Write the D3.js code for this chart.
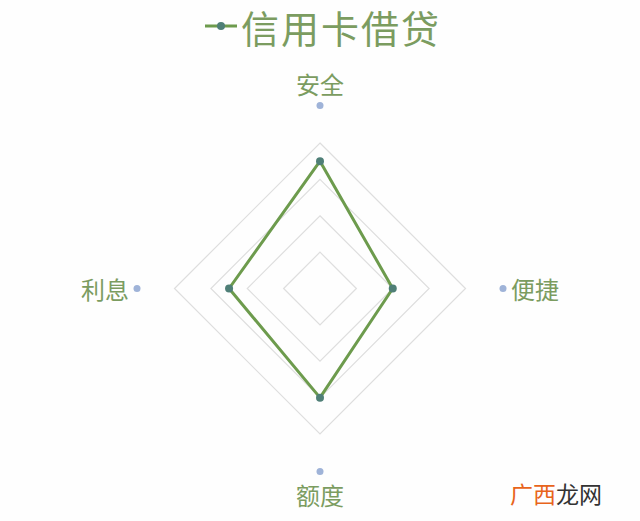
<!DOCTYPE html>
<html><head><meta charset="utf-8">
<script src="https://cdn.jsdelivr.net/npm/d3@7/dist/d3.min.js"></script>
<style>html,body{margin:0;padding:0;background:#fefefe;}</style>
</head><body>
<svg id="c" width="640" height="521"></svg>
<script>
const seriesName = "信用卡借贷";
const categories = ["安全", "便捷", "额度", "利息"];
const values = [3.5, 2, 3, 2.5];
const ringTicks = [1, 2, 3, 4];
const maxValue = 4;

const svg = d3.select("#c");
const cx = 320, cy = 288.5, R = 145.5;
const font = "'Noto Sans CJK SC', 'Noto Sans', sans-serif";
const green = "#6d9b4d", teal = "#4f7f77", textGreen = "#7b9c60";

const r = d3.scaleLinear().domain([0, maxValue]).range([0, R]);
const angle = d3.scalePoint().domain(categories).range([0, 2 * Math.PI * (categories.length - 1) / categories.length]);
const pt = (cat, v) => [cx + r(v) * Math.sin(angle(cat)), cy - r(v) * Math.cos(angle(cat))];

// grid rings
svg.append("g").selectAll("polygon").data(ringTicks).join("polygon")
  .attr("points", t => categories.map(c => pt(c, t).join(",")).join(" "))
  .attr("fill", "none").attr("stroke", "#dedede").attr("stroke-width", 1.2);

// series line
const line = d3.line().curve(d3.curveLinearClosed);
svg.append("path")
  .attr("d", line(categories.map((c, i) => pt(c, values[i]))))
  .attr("fill", "none").attr("stroke", green).attr("stroke-width", 3).attr("stroke-linejoin", "round");

svg.append("g").selectAll("circle").data(categories).join("circle")
  .attr("cx", (c, i) => pt(c, values[i])[0]).attr("cy", (c, i) => pt(c, values[i])[1])
  .attr("r", 4).attr("fill", teal);

// axis label dots and labels
const labelR = r.invert(183);
const lg = svg.append("g");
categories.forEach(c => {
  const [x, y] = pt(c, labelR);
  lg.append("circle").attr("cx", x).attr("cy", y).attr("r", 3.5).attr("fill", "#9fb3d8");
  const a = angle(c);
  let tx = x, ty = y, anchor = "middle";
  if (Math.abs(Math.sin(a)) < 0.01) {
    ty = Math.cos(a) > 0 ? y - 22 : y + 23;
  } else if (Math.sin(a) > 0) { tx = x + 8; anchor = "start"; }
  else { tx = x - 8; anchor = "end"; }
  lg.append("text").attr("x", tx).attr("y", ty).attr("text-anchor", anchor)
    .attr("dominant-baseline", "central")
    .attr("font-family", font).attr("font-size", 24).attr("fill", textGreen).text(c);
});

// title legend
const tg = svg.append("g");
tg.append("line").attr("x1", 205).attr("x2", 237).attr("y1", 26).attr("y2", 26)
  .attr("stroke", green).attr("stroke-width", 3);
tg.append("circle").attr("cx", 221).attr("cy", 26).attr("r", 4).attr("fill", teal);
tg.append("text").attr("x", 241).attr("y", 26).attr("dominant-baseline", "central")
  .attr("font-family", font).attr("font-size", 38).attr("letter-spacing", 2)
  .attr("fill", textGreen).text(seriesName);

// watermark
const wm = svg.append("text").attr("x", 510).attr("y", 493).attr("dominant-baseline", "central")
  .attr("font-family", font).attr("font-size", 23);
wm.append("tspan").attr("fill", "#e8641b").text("广西");
wm.append("tspan").attr("fill", "#333").text("龙网");
</script>
</body></html>
